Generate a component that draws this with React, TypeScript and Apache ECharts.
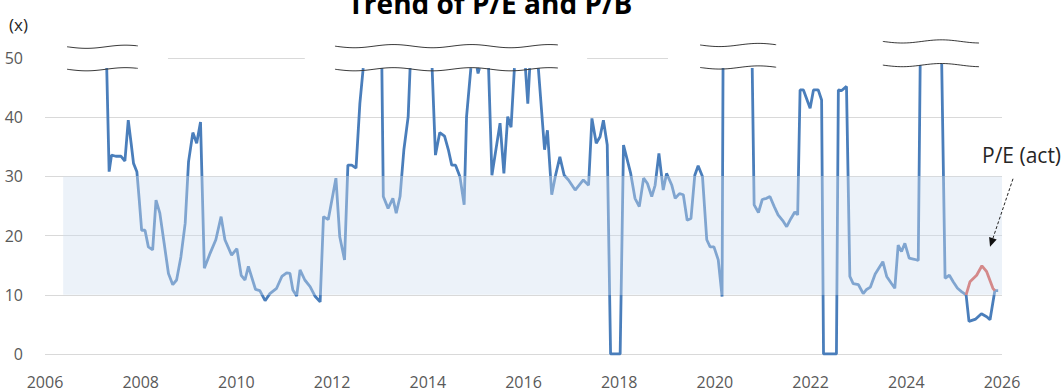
import React, { useEffect, useRef } from 'react';
import * as echarts from 'echarts';

// ---- axis ----
const X_MIN = 2006;
const X_MAX = 2026;
const X_STEP = 2;
const Y_MIN = 0;
const Y_MAX = 50;
const Y_STEP = 10;

// ---- P/E series (blue); null = hidden above the axis break ----
const peYears = [
  2007.29, 2007.34, 2007.39, 2007.48, 2007.59, 2007.67, 2007.74, 2007.80, 2007.85, 2007.92,
  2007.97, 2008.02, 2008.09, 2008.16, 2008.25, 2008.32, 2008.40, 2008.49, 2008.58, 2008.67,
  2008.75, 2008.84, 2008.93, 2009.00, 2009.09, 2009.17, 2009.25, 2009.33, 2009.45, 2009.57,
  2009.68, 2009.76, 2009.90, 2010.01, 2010.10, 2010.18, 2010.25, 2010.40, 2010.49, 2010.60,
  2010.70, 2010.84, 2010.95, 2011.05, 2011.12, 2011.18, 2011.26, 2011.33, 2011.43, 2011.54,
  2011.64, 2011.75, 2011.82, 2011.92, 2012.08, 2012.16, 2012.26, 2012.33, 2012.41, 2012.50,
  2012.58, 2012.65, 2012.85, 2013.04, 2013.07, 2013.17, 2013.27, 2013.34, 2013.42, 2013.50,
  2013.59, 2013.63, 2013.85, 2014.09, 2014.16, 2014.25, 2014.35, 2014.43, 2014.50, 2014.58,
  2014.67, 2014.76, 2014.81, 2014.90, 2014.97, 2015.03, 2015.05, 2015.08, 2015.17, 2015.27,
  2015.34, 2015.51, 2015.59, 2015.67, 2015.74, 2015.81, 2015.92, 2016.04, 2016.09, 2016.13,
  2016.22, 2016.31, 2016.44, 2016.50, 2016.59, 2016.67, 2016.76, 2016.85, 2016.94, 2017.08,
  2017.25, 2017.36, 2017.43, 2017.52, 2017.60, 2017.67, 2017.75, 2017.82, 2018.02, 2018.09,
  2018.24, 2018.33, 2018.42, 2018.51, 2018.59, 2018.68, 2018.75, 2018.83, 2018.92, 2018.99,
  2019.10, 2019.17, 2019.26, 2019.34, 2019.42, 2019.50, 2019.58, 2019.65, 2019.74, 2019.83,
  2019.90, 2019.98, 2020.07, 2020.15, 2020.17, 2020.47, 2020.78, 2020.82, 2020.91, 2020.99,
  2021.08, 2021.15, 2021.24, 2021.32, 2021.43, 2021.50, 2021.59, 2021.67, 2021.73, 2021.78,
  2021.85, 2021.99, 2022.06, 2022.16, 2022.23, 2022.27, 2022.54, 2022.58, 2022.65, 2022.75,
  2022.82, 2022.89, 2023.00, 2023.10, 2023.17, 2023.25, 2023.35, 2023.51, 2023.59, 2023.69,
  2023.76, 2023.83, 2023.90, 2023.97, 2024.06, 2024.17, 2024.25, 2024.29, 2024.52, 2024.74,
  2024.81, 2024.90, 2024.98, 2025.07, 2025.16, 2025.25, 2025.31, 2025.45, 2025.57, 2025.68,
  2025.75, 2025.85, 2025.92,
];
const peValues = [
  48.3, 30.8, 33.6, 33.4, 33.4, 32.6, 39.5, 35.6, 32.2, 30.8,
  26.0, 20.9, 20.9, 18.1, 17.6, 26.0, 23.8, 18.7, 13.6, 11.7,
  12.5, 16.4, 22.1, 32.5, 37.4, 35.6, 39.2, 14.5, 17.0, 19.3,
  23.2, 19.3, 16.7, 17.8, 13.3, 12.5, 14.8, 10.9, 10.7, 9.0,
  10.2, 11.1, 13.1, 13.7, 13.6, 10.8, 9.8, 14.2, 12.5, 11.4,
  9.8, 8.8, 23.2, 22.7, 29.7, 19.8, 15.9, 31.9, 31.9, 31.4,
  42.3, 48.3, null, 48.3, 26.6, 24.6, 26.3, 23.8, 26.6, 34.5,
  40.1, 48.3, null, 48.3, 33.6, 37.4, 36.8, 34.5, 31.9, 31.9,
  30.0, 25.2, 40.1, 48.3, null, 48.3, 47.4, 48.3, null, 48.3,
  30.2, 39.0, 30.5, 40.1, 38.3, 48.3, null, 48.3, 42.3, 48.3,
  null, 48.3, 34.5, 37.8, 26.9, 30.2, 33.3, 30.2, 29.4, 27.7,
  29.4, 28.5, 39.8, 35.6, 36.7, 39.5, 35.3, 0, 0, 35.3,
  30.5, 26.3, 24.9, 29.7, 28.8, 26.6, 28.5, 33.9, 27.7, 30.5,
  28.5, 26.3, 27.1, 26.9, 22.6, 22.9, 30.2, 31.8, 30.0, 19.3,
  18.1, 18.1, 15.9, 9.7, 48.3, null, 48.3, 25.2, 23.9, 26.1,
  26.3, 26.6, 24.9, 23.5, 22.4, 21.5, 22.9, 24.0, 23.5, 44.6,
  44.6, 41.5, 44.6, 44.6, 42.9, 0, 0, 44.6, 44.5, 45.2,
  13.1, 11.9, 11.7, 10.2, 10.9, 11.3, 13.5, 15.6, 13.1, 11.9,
  11.1, 18.4, 17.3, 18.7, 16.2, 16.0, 15.8, 48.8, null, 49.0,
  12.8, 13.3, 12.2, 11.1, 10.5, 10.0, 5.5, 5.9, 6.8, 6.3,
  5.8, 10.7, 10.7,
];

// ---- P/E (act) series (red) ----
const actYears = [2025.25, 2025.33, 2025.47, 2025.58, 2025.68, 2025.81, 2025.85];
const actValues = [10.0, 12.2, 13.3, 14.9, 13.9, 11.1, 10.7];

// ---- shaded band ----
const bandLow = 10;
const bandHigh = 30;
const bandStart = 2006.38;
const bandEnd = 2026;

// ---- axis-break marks ----
const breakStarts = [2006.46, 2012.06, 2019.69, 2023.51];
const breakEnds = [2007.94, 2016.72, 2021.28, 2025.52];
const breakLows = [48.1, 48.1, 48.4, 48.8];
const breakHighs = [51.9, 52.0, 52.2, 52.8];

// ---- visible pieces of the 50 grid line ----
const topGridStarts = [2008.57, 2017.33];
const topGridEnds = [2011.43, 2019.02];

// ---- annotation ----
const annotText = 'P/E (act)';
const arrowFrom = [2026.23, 29.6];
const arrowTo = [2025.75, 18.1];

const FONT = '"Open Sans", "Noto Sans", sans-serif';
const GRID_COLOR = '#d9d9d9';
const BLUE = '#4a7ebb';
const BLUE_LIGHT = '#80a5d0';
const RED = '#d4898a';

export default function App() {
  const ref = useRef<HTMLDivElement>(null);

  useEffect(() => {
    if (!ref.current) return;
    const chart = echarts.init(ref.current, null, { renderer: 'svg' });

    const peData = peYears.map((x, i) => [x, peValues[i]]);
    const actData = actYears.map((x, i) => [x, actValues[i]]);

    const option: any = {
      animation: false,
      grid: { left: 45, right: 62, top: 58, bottom: 36, containLabel: false },
      xAxis: {
        type: 'value',
        min: X_MIN,
        max: X_MAX,
        interval: X_STEP,
        axisLine: { show: false },
        axisTick: { show: false },
        splitLine: { show: false },
        axisLabel: {
          color: '#595959',
          fontSize: 16,
          lineHeight: 16,
          fontFamily: FONT,
          margin: 20,
          formatter: (v: number) => String(v),
        },
      },
      yAxis: {
        type: 'value',
        min: Y_MIN,
        max: Y_MAX,
        interval: Y_STEP,
        axisLine: { show: false },
        axisTick: { show: false },
        splitLine: {
          show: true,
          showMaxLine: false,
          lineStyle: { color: GRID_COLOR, width: 1 },
        },
        axisLabel: { color: '#595959', fontSize: 16, fontFamily: FONT, margin: 22 },
      },
      visualMap: {
        show: false,
        type: 'piecewise',
        dimension: 1,
        seriesIndex: 0,
        pieces: [{ gte: bandLow, lte: bandHigh, color: BLUE_LIGHT }],
        outOfRange: { color: BLUE },
      },
      series: [
        {
          type: 'line',
          data: peData,
          showSymbol: false,
          connectNulls: false,
          lineStyle: { width: 2.8 },
          z: 3,
          markArea: {
            silent: true,
            itemStyle: { color: 'rgba(205,220,240,0.38)' },
            data: [[{ coord: [bandStart, bandLow] }, { coord: [bandEnd, bandHigh] }]],
          },
          markLine: {
            silent: true,
            symbol: ['none', 'none'],
            label: { show: false },
            lineStyle: { color: GRID_COLOR, width: 1, type: 'solid' },
            data: topGridStarts.map((s, i) => [
              { coord: [s, Y_MAX] },
              { coord: [topGridEnds[i], Y_MAX] },
            ]),
          },
        },
        {
          type: 'line',
          data: actData,
          showSymbol: false,
          lineStyle: { width: 2.8, color: RED },
          itemStyle: { color: RED },
          z: 4,
        },
      ],
    };
    chart.setOption(option);

    const px = (x: number, y: number) =>
      chart.convertToPixel({ seriesIndex: 0 }, [x, y]) as number[];

    const graphics: any[] = [];

    // title & unit
    graphics.push({
      type: 'text',
      x: 490,
      y: 3,
      style: {
        text: 'Trend of P/E and P/B',
        font: `bold 28px ${FONT}`,
        fill: '#000',
        align: 'center',
        verticalAlign: 'middle',
      },
    });
    graphics.push({
      type: 'text',
      x: 9,
      y: 24,
      style: { text: '(x)', font: `17px ${FONT}`, fill: '#262626', align: 'left', verticalAlign: 'middle' },
    });

    // axis-break wavy lines
    const wave = (x0: number, x1: number, y: number) => {
      const pts: number[][] = [];
      for (let x = x0; x < x1; x += 3) {
        pts.push([x, y + 1.6 * Math.sin(((x - x0) / 78) * 2 * Math.PI)]);
      }
      pts.push([x1, y + 1.6 * Math.sin(((x1 - x0) / 78) * 2 * Math.PI)]);
      return pts;
    };
    breakStarts.forEach((s, i) => {
      const a = px(s, breakLows[i]);
      const b = px(breakEnds[i], breakHighs[i]);
      [a[1], b[1]].forEach((yy) => {
        graphics.push({
          type: 'polyline',
          z: 10,
          shape: { points: wave(a[0], b[0], yy), smooth: 0.3 },
          style: { stroke: '#3a3a3a', lineWidth: 1, fill: 'none' },
        });
      });
    });

    // annotation label + dashed arrow
    const p0 = px(arrowFrom[0], arrowFrom[1]);
    const p1 = px(arrowTo[0], arrowTo[1]);
    graphics.push({
      type: 'text',
      x: p0[0] - 31,
      y: p0[1] - 24,
      z: 10,
      style: {
        text: annotText,
        font: `21px ${FONT}`,
        fill: '#262626',
        align: 'left',
        verticalAlign: 'middle',
      },
    });
    const dx = p1[0] - p0[0];
    const dy = p1[1] - p0[1];
    const len = Math.sqrt(dx * dx + dy * dy);
    const ux = dx / len;
    const uy = dy / len;
    const hl = 9;
    const hw = 4;
    const bx = p1[0] - ux * hl;
    const by = p1[1] - uy * hl;
    graphics.push({
      type: 'line',
      z: 10,
      shape: { x1: p0[0], y1: p0[1], x2: bx, y2: by },
      style: { stroke: '#222', lineWidth: 1, lineDash: [3, 2] },
    });
    graphics.push({
      type: 'polygon',
      z: 10,
      shape: {
        points: [
          [p1[0], p1[1]],
          [bx - uy * hw, by + ux * hw],
          [bx + uy * hw, by - ux * hw],
        ],
      },
      style: { fill: '#111' },
    });

    chart.setOption({ graphic: graphics });

    return () => chart.dispose();
  }, []);

  return (
    <div
      ref={ref}
      style={{ position: 'fixed', left: 0, top: 0, width: 1064, height: 390, background: '#fff' }}
    />
  );
}
